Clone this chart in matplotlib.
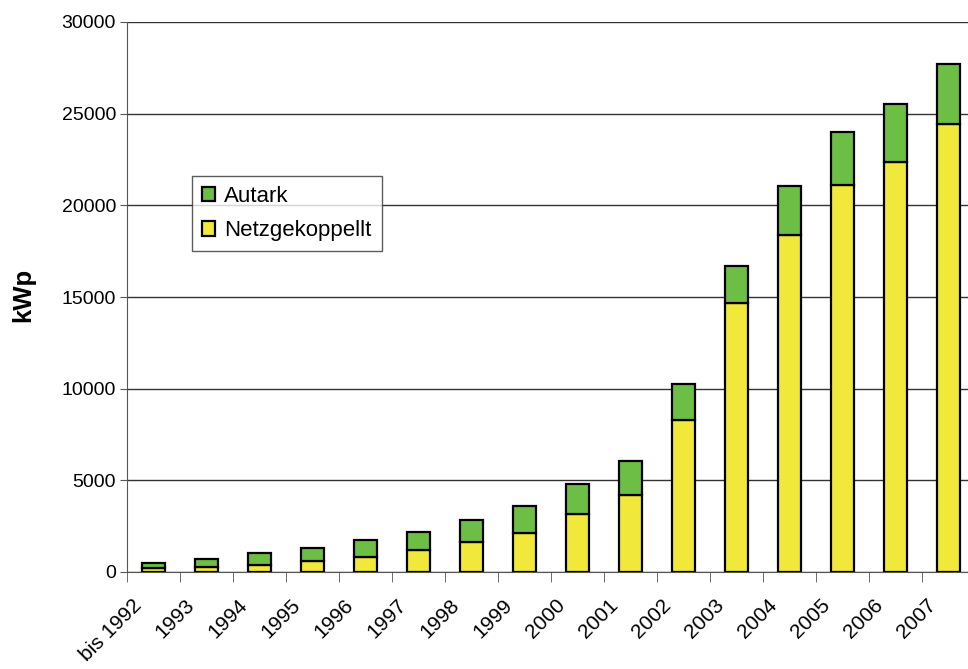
import numpy as np
import matplotlib.pyplot as plt
import matplotlib.transforms as mtransforms

plt.rcParams["font.family"] = ["Liberation Sans", "DejaVu Sans"]

# Werte (kWp)
years = ["bis 1992", "1993", "1994", "1995", "1996", "1997", "1998", "1999",
         "2000", "2001", "2002", "2003", "2004", "2005", "2006", "2007"]
netz = [200, 300, 400, 600, 800, 1200, 1620, 2130,
        3160, 4200, 8280, 14650, 18370, 21130, 22370, 24420]
total = [510, 710, 1020, 1330, 1745, 2160, 2860, 3580,
         4820, 6050, 10250, 16710, 21040, 24020, 25550, 27700]
autark = [t - n for t, n in zip(total, netz)]

fig = plt.figure(figsize=(9.68, 6.69), dpi=100)
ax = fig.add_axes([127 / 968, 1 - 572 / 669, 848 / 968, 550 / 669])

x = np.arange(len(years))
w = 0.42
ax.bar(x, netz, w, color="#F0E93C", edgecolor="black", linewidth=1.6,
       label="Netzgekoppellt", zorder=3)
ax.bar(x, autark, w, bottom=netz, color="#6CBE45", edgecolor="black",
       linewidth=1.6, label="Autark", zorder=3)

ax.set_xlim(-0.5, len(years) - 0.5)
ax.set_ylim(0, 30000)
ax.set_yticks(range(0, 30001, 5000))
ax.yaxis.grid(True, color="#333333", linewidth=1)
ax.set_axisbelow(True)

ax.set_xticks(x)
ax.set_xticklabels(years, rotation=45, ha="right", rotation_mode="anchor",
                   fontsize=15)
ax.set_xticks(np.arange(-0.5, len(years), 1), minor=True)
ax.tick_params(axis="x", which="major", length=0, pad=17)
ax.tick_params(axis="x", which="minor", length=7, color="#555555")
ax.tick_params(axis="y", length=5, pad=3, labelsize=14, color="#555555")

# labels sit left of the bar centre (after tick_params, which resets transforms)
shift = mtransforms.ScaledTranslation(-22 / 100, 0, fig.dpi_scale_trans)
for lbl in ax.xaxis.get_majorticklabels():
    lbl.set_transform(lbl.get_transform() + shift)

for s in ["top", "right"]:
    ax.spines[s].set_visible(False)
ax.spines["left"].set_color("#555555")
ax.spines["bottom"].set_color("#555555")

ax.set_ylabel("kWp", fontsize=18.5, fontweight="bold")
ax.yaxis.set_label_coords(35 / 968, 1 - 295 / 669, transform=fig.transFigure)

handles, labels = ax.get_legend_handles_labels()
leg = ax.legend(handles[::-1], labels[::-1], loc="upper left",
                bbox_to_anchor=(192 / 968, 1 - 176 / 669),
                bbox_transform=fig.transFigure, borderaxespad=0,
                fontsize=16, frameon=True, fancybox=False,
                edgecolor="#333333", handlelength=0.6, handleheight=0.6,
                handletextpad=0.4, labelspacing=0.6, borderpad=0.45)
leg.get_frame().set_linewidth(1)

fig.savefig("out.png", dpi=100)
